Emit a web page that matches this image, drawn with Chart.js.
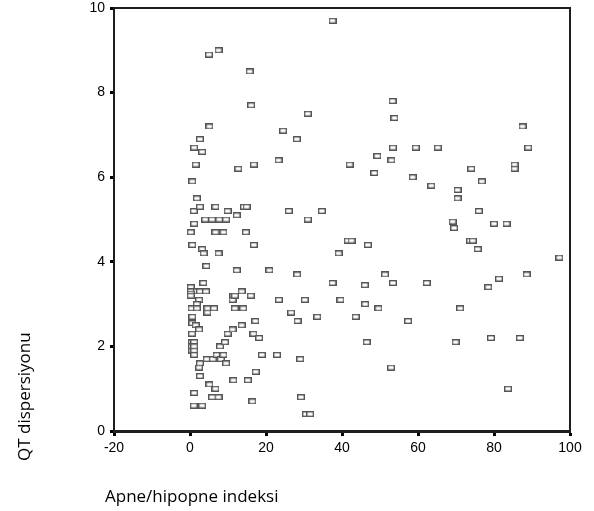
<!DOCTYPE html>
<html>
<head>
<meta charset="utf-8">
<script src="https://cdn.jsdelivr.net/npm/chart.js@4/dist/chart.umd.min.js"></script>
<style>
html,body{margin:0;padding:0;background:#fff;}
#wrap{position:relative;width:594px;height:511px;}
</style>
</head>
<body>
<div id="wrap"><canvas id="c" width="594" height="511"></canvas></div>
<script>
const xTitle = "Apne/hipopne indeksi";
const yTitle = "QT dispersiyonu";
const xTicks = [-20, 0, 20, 40, 60, 80, 100];
const yTicks = [0, 2, 4, 6, 8, 10];

const apneIndex = [
  37.5, 5.0, 7.5, 15.7, 16.1, 5.1, 24.5, 28.1, 31.0, 53.3,
  53.8, 87.5, 89.0, 53.4, 59.4, 65.2, 2.6, 1.1, 3.2, 1.5,
  12.7, 16.8, 23.3, 0.6, 1.8, 1.0, 2.6, 6.7, 9.9, 12.3,
  14.2, 14.9, 26.0, 4.0, 5.8, 7.7, 9.5, 1.1, 0.2, 6.7,
  8.8, 14.7, 0.6, 3.2, 3.6, 7.5, 16.8, 4.3, 12.3, 20.9,
  28.2, 3.5, 0.2, 13.6, 0.2, 1.8, 2.6, 4.2, 0.2, 0.2,
  2.4, 1.8, 0.4, 1.8, 4.6, 6.3, 4.6, 0.6, 0.6, 1.5,
  2.4, 0.5, 0.5, 1.1, 0.5, 1.1, 0.5, 1.1, 1.1, 2.6,
  2.4, 2.6, 4.4, 6.0, 7.0, 8.1, 8.8, 9.5, 7.9, 9.2,
  9.9, 11.2, 13.6, 17.2, 16.7, 18.2, 18.9, 22.9, 29.0, 17.3,
  11.4, 15.2, 5.1, 6.7, 5.8, 7.5, 1.1, 1.0, 3.2, 16.4,
  29.2, 11.4, 11.2, 11.8, 16.0, 11.8, 14.0, 23.4, 26.6, 28.3,
  49.3, 53.0, 42.0, 48.5, 58.6, 63.5, 74.0, 85.4, 85.4, 76.8,
  70.4, 70.4, 76.0, 31.0, 34.7, 69.1, 69.5, 80.0, 83.3, 41.5,
  42.5, 46.8, 39.1, 73.7, 74.4, 75.7, 97.2, 37.5, 46.0, 51.3,
  53.4, 62.3, 81.3, 78.5, 88.6, 30.2, 39.6, 46.1, 49.6, 33.5,
  43.6, 57.4, 71.1, 46.5, 69.9, 79.2, 86.8, 52.9, 83.7, 30.5,
  31.6
];
const qtDispersion = [
  9.7, 8.9, 9.0, 8.5, 7.7, 7.2, 7.1, 6.9, 7.5, 7.8,
  7.4, 7.2, 6.7, 6.7, 6.7, 6.7, 6.9, 6.7, 6.6, 6.3,
  6.2, 6.3, 6.4, 5.9, 5.5, 5.2, 5.3, 5.3, 5.2, 5.1,
  5.3, 5.3, 5.2, 5.0, 5.0, 5.0, 5.0, 4.9, 4.7, 4.7,
  4.7, 4.7, 4.4, 4.3, 4.2, 4.2, 4.4, 3.9, 3.8, 3.8,
  3.7, 3.5, 3.4, 3.3, 3.3, 3.3, 3.3, 3.3, 3.25, 3.2,
  3.1, 3.0, 2.9, 2.9, 2.9, 2.9, 2.8, 2.7, 2.55, 2.5,
  2.4, 2.3, 2.1, 2.1, 2.0, 2.0, 1.9, 1.9, 1.8, 1.6,
  1.5, 1.3, 1.7, 1.7, 1.8, 1.7, 1.8, 1.6, 2.0, 2.1,
  2.3, 2.4, 2.5, 2.6, 2.3, 2.2, 1.8, 1.8, 1.7, 1.4,
  1.2, 1.2, 1.1, 1.0, 0.8, 0.8, 0.9, 0.6, 0.6, 0.7,
  0.8, 3.2, 3.1, 3.2, 3.2, 2.9, 2.9, 3.1, 2.8, 2.6,
  6.5, 6.4, 6.3, 6.1, 6.0, 5.8, 6.2, 6.3, 6.2, 5.9,
  5.7, 5.5, 5.2, 5.0, 5.2, 4.95, 4.8, 4.9, 4.9, 4.5,
  4.5, 4.4, 4.2, 4.5, 4.5, 4.3, 4.1, 3.5, 3.45, 3.7,
  3.5, 3.5, 3.6, 3.4, 3.7, 3.1, 3.1, 3.0, 2.9, 2.7,
  2.7, 2.6, 2.9, 2.1, 2.1, 2.2, 2.2, 1.5, 1.0, 0.4,
  0.4
];

const points = apneIndex.map((x, i) => ({x: x, y: qtDispersion[i]}));

// hollow box marker
const marker = document.createElement('canvas');
marker.width = 8; marker.height = 6;
(function(){
  const m = marker.getContext('2d');
  m.fillStyle = '#555555';
  m.fillRect(0, 0, 8, 6);
  m.fillStyle = '#ffffff';
  m.fillRect(1.4, 1.4, 5.2, 3.2);
})();

const titlePlugin = {
  id: 'axisTitles',
  afterDraw(chart) {
    const ctx = chart.ctx;
    ctx.save();
    ctx.fillStyle = '#000';
    ctx.font = '17px "Open Sans", Lato, sans-serif';
    ctx.textBaseline = 'alphabetic';
    ctx.textAlign = 'left';
    ctx.fillText(xTitle, 105, 502);
    ctx.translate(30, 461);
    ctx.rotate(-Math.PI / 2);
    ctx.fillText(yTitle, 0, 0);
    ctx.restore();
  }
};

const tickFont = { family: '"Liberation Sans", Arial, sans-serif', size: 14 };
const edge = { display: true, color: '#1e1e1e', width: 2 };

new Chart(document.getElementById('c'), {
  type: 'scatter',
  data: {
    datasets: [{
      data: points,
      pointStyle: marker,
      pointRadius: 4,
      pointHoverRadius: 4,
      showLine: false
    }]
  },
  options: {
    responsive: false,
    animation: false,
    events: [],
    layout: { padding: { top: 7, right: 23, left: 0, bottom: 0 } },
    plugins: { legend: { display: false }, tooltip: { enabled: false } },
    scales: {
      x: {
        type: 'linear', position: 'bottom',
        min: -20, max: 100,
        afterBuildTicks(s) { s.ticks = xTicks.map(v => ({value: v})); },
        afterFit(s) { s.height = 80; s.paddingLeft = 0; s.paddingRight = 0; },
        border: { display: true, color: '#1e1e1e', width: 3 },
        grid: { display: true, drawOnChartArea: false, drawTicks: true, tickLength: 5, tickWidth: 3, color: '#000' },
        ticks: { color: '#000', font: tickFont, padding: 4, maxRotation: 0 }
      },
      y: {
        type: 'linear', position: 'left',
        min: 0, max: 10,
        afterBuildTicks(s) { s.ticks = yTicks.map(v => ({value: v})); },
        afterFit(s) { s.width = 114; s.paddingTop = 0; s.paddingBottom = 0; },
        border: edge,
        grid: { display: true, drawOnChartArea: false, drawTicks: true, tickLength: 4, tickWidth: 3, color: '#000' },
        ticks: { color: '#000', font: tickFont, padding: 5 }
      },
      xTop: {
        type: 'linear', position: 'top',
        min: -20, max: 100,
        afterFit(s) { s.height = 1; s.paddingLeft = 0; s.paddingRight = 0; },
        border: edge,
        grid: { display: false },
        ticks: { display: false }
      },
      yRight: {
        type: 'linear', position: 'right',
        min: 0, max: 10,
        afterFit(s) { s.width = 1; s.paddingTop = 0; s.paddingBottom = 0; },
        border: edge,
        grid: { display: false },
        ticks: { display: false }
      }
    }
  },
  plugins: [titlePlugin]
});
</script>
</body>
</html>
